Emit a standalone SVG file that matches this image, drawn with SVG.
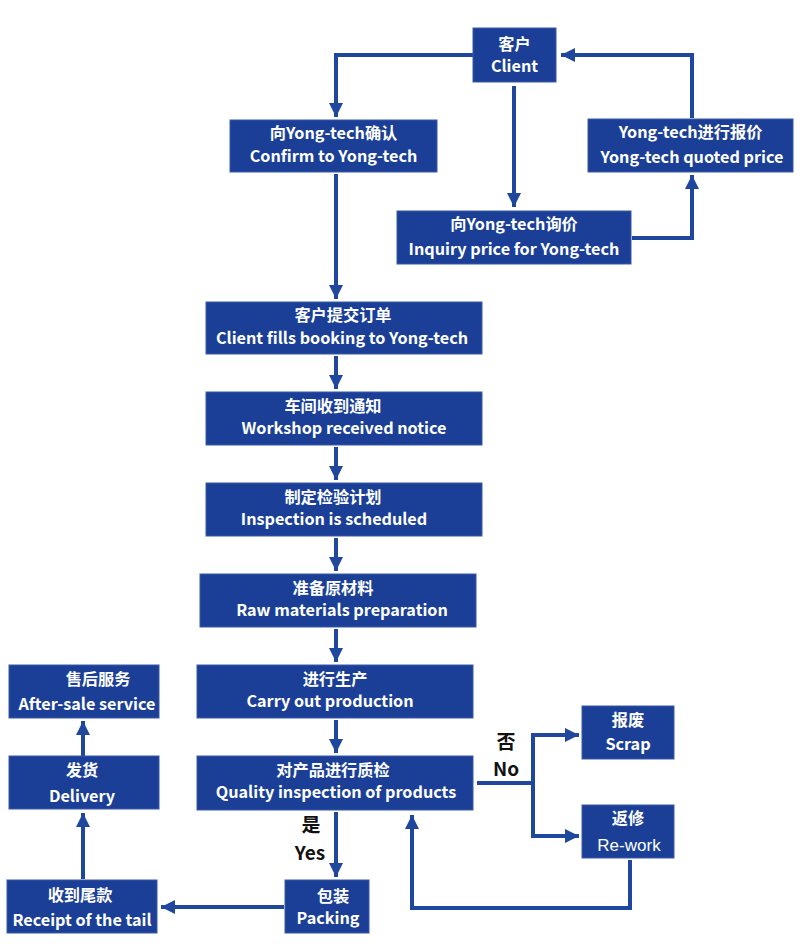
<svg xmlns="http://www.w3.org/2000/svg" width="800" height="944" viewBox="0 0 800 944">
<style>
.box{fill:#1b3f97;stroke:#3a5aa8;stroke-width:1}
.t{font-family:"Noto Sans CJK SC","Noto Sans",sans-serif;font-weight:bold;font-size:16.2px;fill:#fff;text-anchor:middle}
.a{font-family:"Liberation Sans",Arial,sans-serif;font-size:17px;fill:#fff;text-anchor:middle}
.lbl{font-family:"Noto Sans CJK SC","Noto Sans",sans-serif;font-weight:bold;font-size:19px;fill:#111;text-anchor:middle}
.c{fill:none;stroke:#1e479d;stroke-width:4}
</style>
<defs>
<marker id="ah" viewBox="0 0 10 10" refX="10" refY="5" markerWidth="3.6" markerHeight="3.6" markerUnits="strokeWidth" orient="auto">
<path d="M0,0 L10,5 L0,10 z" fill="#1e479d"/>
</marker>
</defs>
<rect width="800" height="944" fill="#fff"/>
<g id="connectors">
<path class="c" d="M473,55 H336 V117" marker-end="url(#ah)"/>
<path class="c" d="M514,86 V207" marker-end="url(#ah)"/>
<path class="c" d="M632,238 H692 V175" marker-end="url(#ah)"/>
<path class="c" d="M692,118 V55 H561" marker-end="url(#ah)"/>
<path class="c" d="M336,174 V299" marker-end="url(#ah)"/>
<path class="c" d="M336,356 V389" marker-end="url(#ah)"/>
<path class="c" d="M336,447 V480" marker-end="url(#ah)"/>
<path class="c" d="M336,538 V571" marker-end="url(#ah)"/>
<path class="c" d="M336,629 V662" marker-end="url(#ah)"/>
<path class="c" d="M336,720 V753" marker-end="url(#ah)"/>
<path class="c" d="M336,812 V877" marker-end="url(#ah)"/>
<path class="c" d="M284,907 H161" marker-end="url(#ah)"/>
<path class="c" d="M83,879 V813" marker-end="url(#ah)"/>
<path class="c" d="M83,756 V721" marker-end="url(#ah)"/>
<path class="c" d="M477,783 H533"/>
<path class="c" d="M533,735 V838"/>
<path class="c" d="M531,735 H579" marker-end="url(#ah)"/>
<path class="c" d="M531,836 H579" marker-end="url(#ah)"/>
<path class="c" d="M630,860 V908 H412 V815" marker-end="url(#ah)"/>
</g>
<g id="client"><rect class="box" x="473" y="28" width="83" height="54"/><text class="t" x="514.5" y="50">客户</text><text class="t" x="514.5" y="72">Client</text></g>
<g id="confirm"><rect class="box" x="230" y="120" width="207" height="52"/><text class="t" x="333.5" y="139">向Yong-tech确认</text><text class="t" x="333.5" y="162">Confirm to Yong-tech</text></g>
<g id="inquiry"><rect class="box" x="397" y="211" width="234" height="53"/><text class="t" x="514" y="230">向Yong-tech询价</text><text class="t" x="514" y="255">Inquiry price for Yong-tech</text></g>
<g id="quoted"><rect class="box" x="588" y="119" width="205" height="53"/><text class="t" x="690.5" y="138">Yong-tech进行报价</text><text class="t" x="692" y="163">Yong-tech quoted price</text></g>
<g id="booking"><rect class="box" x="206" y="302" width="276" height="52"/><text class="t" x="343" y="321">客户提交订单</text><text class="t" x="342" y="344">Client fills booking to Yong-tech</text></g>
<g id="workshop"><rect class="box" x="206" y="392" width="276" height="53"/><text class="t" x="333" y="412">车间收到通知</text><text class="t" x="344" y="434">Workshop received notice</text></g>
<g id="scheduled"><rect class="box" x="206" y="483" width="276" height="53"/><text class="t" x="333" y="503">制定检验计划</text><text class="t" x="334" y="525">Inspection is scheduled</text></g>
<g id="raw"><rect class="box" x="200" y="574" width="276" height="53"/><text class="t" x="333" y="594">准备原材料</text><text class="t" x="342" y="616">Raw materials preparation</text></g>
<g id="production"><rect class="box" x="197" y="665" width="276" height="53"/><text class="t" x="335" y="685">进行生产</text><text class="t" x="330" y="707">Carry out production</text></g>
<g id="quality"><rect class="box" x="197" y="756" width="276" height="54"/><text class="t" x="333" y="776">对产品进行质检</text><text class="t" x="336" y="798">Quality inspection of products</text></g>
<g id="packing"><rect class="box" x="285" y="880" width="84" height="53"/><text class="t" x="333" y="902">包装</text><text class="t" x="328" y="924">Packing</text></g>
<g id="receipt"><rect class="box" x="7" y="880" width="150" height="53"/><text class="t" x="80" y="901">收到尾款</text><text class="t" x="82" y="926">Receipt of the tail</text></g>
<g id="delivery"><rect class="box" x="9" y="756" width="150" height="53"/><text class="t" x="82" y="776">发货</text><text class="t" x="82" y="802">Delivery</text></g>
<g id="aftersale"><rect class="box" x="9" y="665" width="150" height="53"/><text class="t" x="98" y="685">售后服务</text><text class="t" x="87" y="710">After-sale service</text></g>
<g id="scrap"><rect class="box" x="582" y="706" width="92" height="53"/><text class="t" x="628" y="726">报废</text><text class="t" x="628" y="750">Scrap</text></g>
<g id="rework"><rect class="box" x="582" y="805" width="92" height="53"/><text class="t" x="628" y="824">返修</text><text class="a" x="629" y="851">Re-work</text></g>
<g id="labels">
<text class="lbl" x="506" y="749">否</text><text class="lbl" x="506" y="776">No</text>
<text class="lbl" x="311" y="832">是</text><text class="lbl" x="310" y="860">Yes</text>
</g>
</svg>
